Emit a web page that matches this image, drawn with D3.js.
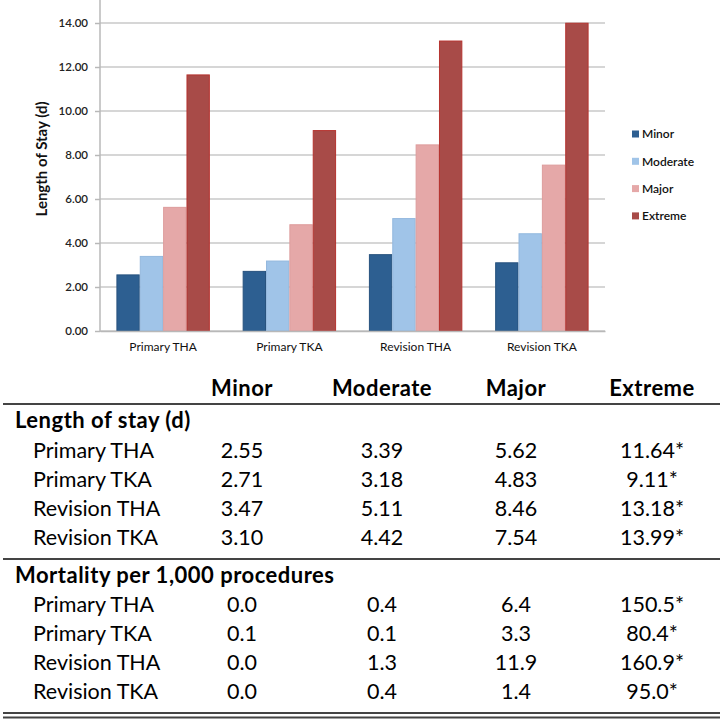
<!DOCTYPE html>
<html><head><meta charset="utf-8">
<script src="https://cdn.jsdelivr.net/npm/d3@7/dist/d3.min.js"></script>
<style>body{margin:0;background:#fff}svg{display:block}</style>
</head><body>
<svg id="c" width="722" height="721"></svg>
<script>
const procedures = ["Primary THA","Primary TKA","Revision THA","Revision TKA"];
const severities = ["Minor","Moderate","Major","Extreme"];
const losValues = [
  [2.55,3.39,5.62,11.64],
  [2.71,3.18,4.83,9.11],
  [3.47,5.11,8.46,13.18],
  [3.10,4.42,7.54,13.99]
];
const losLabels = [
  ["2.55","3.39","5.62","11.64*"],
  ["2.71","3.18","4.83","9.11*"],
  ["3.47","5.11","8.46","13.18*"],
  ["3.10","4.42","7.54","13.99*"]
];
const mortLabels = [
  ["0.0","0.4","6.4","150.5*"],
  ["0.1","0.1","3.3","80.4*"],
  ["0.0","1.3","11.9","160.9*"],
  ["0.0","0.4","1.4","95.0*"]
];
const yTicks = [0,2,4,6,8,10,12,14];
const colors = ["#2D5F91","#A0C4E8","#E5A8A8","#A84B48"];
const strokes = ["#27527e","#93b8de","#dd9c9c","#B5332F"];

const svg = d3.select("#c");
const font = "Lato, 'Open Sans', sans-serif";

// ---- chart ----
const x0 = d3.scaleBand().domain(procedures).range([100,605]).paddingInner(0.26).paddingOuter(0.13);
const x1 = d3.scaleBand().domain(severities).range([0,x0.bandwidth()]);
const y = d3.scaleLinear().domain([0,14]).range([331,23]);

const g = svg.append("g");
g.selectAll("line.grid").data(yTicks).join("line")
  .attr("x1",100).attr("x2",605)
  .attr("y1",d=>y(d)).attr("y2",d=>y(d))
  .attr("stroke","#c8c8c8").attr("stroke-width",1.6);

const yAxis = d3.axisLeft(y).tickValues(yTicks).tickFormat(d3.format(".2f")).tickSize(5).tickPadding(7);
const ya = g.append("g").attr("transform","translate(100,0)").call(yAxis);
ya.select(".domain").remove();
ya.selectAll(".tick line").attr("stroke","#b8b8b8").attr("stroke-width",1.5);
ya.selectAll(".tick text").attr("font-family",font).attr("font-size",11.5).attr("font-weight",600).attr("fill","#222");
g.append("line").attr("x1",100).attr("x2",100).attr("y1",0).attr("y2",332).attr("stroke","#b8b8b8").attr("stroke-width",1.5);

const groups = g.selectAll("g.grp").data(procedures).join("g")
  .attr("transform",d=>`translate(${x0(d)},0)`);
groups.selectAll("rect").data((d,i)=>losValues[i].map((v,j)=>({v,j}))).join("rect")
  .attr("x",d=>x1(severities[d.j])+0.5)
  .attr("width",x1.bandwidth()-1)
  .attr("y",d=>y(d.v))
  .attr("height",d=>y(0)-y(d.v))
  .attr("fill",d=>colors[d.j])
  .attr("stroke",d=>strokes[d.j]).attr("stroke-width",1);

const xAxis = d3.axisBottom(x0).tickSize(0).tickPadding(11);
const xa = g.append("g").attr("transform","translate(0,331)").call(xAxis);
xa.select(".domain").attr("stroke","#b8b8b8").attr("stroke-width",1.5);
xa.selectAll(".tick text").attr("font-family",font).attr("font-size",12).attr("fill","#111");

g.append("text").attr("transform","translate(47,159) rotate(-90)")
  .attr("text-anchor","middle").attr("font-family",font).attr("font-weight",700)
  .attr("font-size",15).attr("fill","#111").text("Length of Stay (d)");

const leg = g.selectAll("g.leg").data(severities).join("g")
  .attr("transform",(d,i)=>`translate(632,${134+i*27.3})`);
leg.append("rect").attr("x",0).attr("y",-3.5).attr("width",7).attr("height",7)
  .attr("fill",(d,i)=>colors[i]);
leg.append("text").attr("x",10).attr("y",0).attr("dy","0.35em")
  .attr("font-family",font).attr("font-size",12).attr("font-weight",600).attr("fill","#111").text(d=>d);

// ---- table ----
const colX = d3.scaleOrdinal().domain(severities).range([242,382,516,652]);
const t = svg.append("g").attr("font-family",font).attr("fill","#000");
const fs = 21.5, fb = 22;
t.selectAll("text.hdr").data(severities).join("text")
  .attr("x",d=>colX(d)).attr("y",388).attr("dy","0.35em").attr("text-anchor","middle")
  .attr("font-size",fb).attr("font-weight",700).attr("letter-spacing",0.5).text(d=>d);
function hline(yy, w){ t.append("line").attr("x1",3).attr("x2",720).attr("y1",yy).attr("y2",yy).attr("stroke","#444").attr("stroke-width",w); }
hline(404,2);
function section(title, yTitle, labels, rowY){
  t.append("text").attr("x",15).attr("y",yTitle).attr("dy","0.35em")
    .attr("font-size",fb).attr("font-weight",700).attr("letter-spacing",0.5).text(title);
  procedures.forEach((p,i)=>{
    const yy = rowY[i];
    t.append("text").attr("x",33).attr("y",yy).attr("dy","0.35em").attr("font-size",fs).text(p);
    t.selectAll(null).data(labels[i]).join("text")
      .attr("x",(d,j)=>colX(severities[j])).attr("y",yy).attr("dy","0.35em")
      .attr("text-anchor","middle").attr("font-size",fs).text(d=>d);
  });
}
section("Length of stay (d)",420,losLabels,[450,479,508,537]);
hline(559,2);
section("Mortality per 1,000 procedures",575,mortLabels,[604,633,662,691]);
hline(713,2);
hline(717.5,2);
</script>
</body></html>
